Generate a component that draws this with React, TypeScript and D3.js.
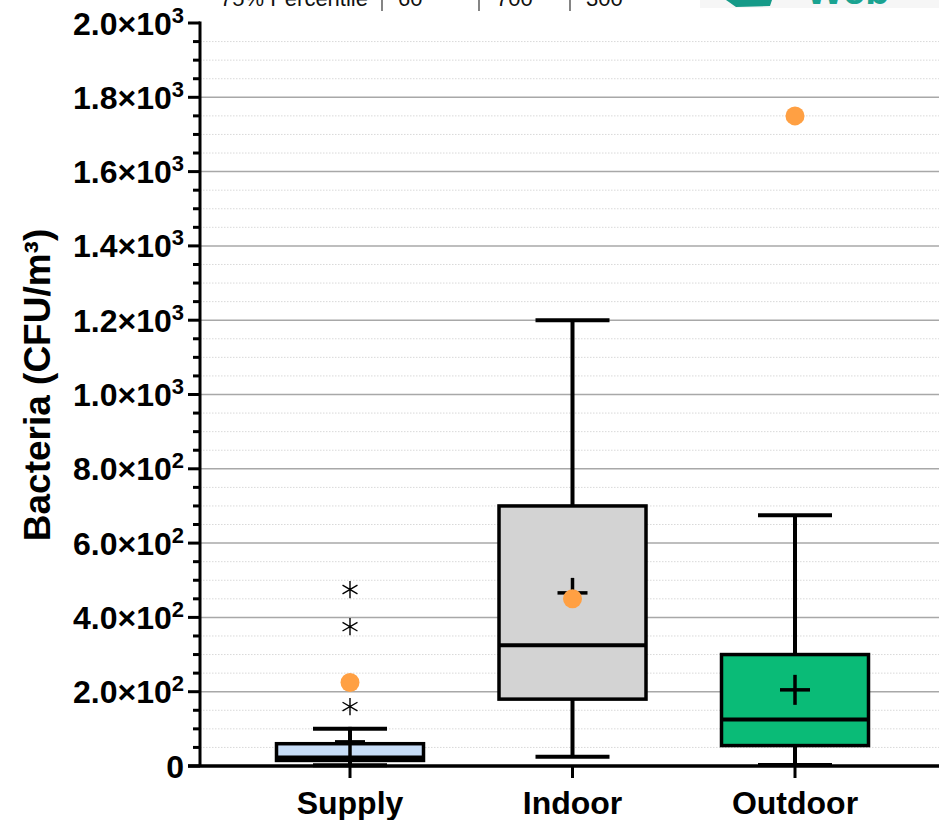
import React from 'react';
import * as d3 from 'd3';

const categories = ['Supply', 'Indoor', 'Outdoor'];
const mins = [2, 25, 3];
const q1s = [15, 180, 55];
const medians = [23, 325, 125];
const q3s = [60, 700, 300];
const maxs = [100, 1200, 675];
const means = [65, 466, 205];
const fills = ['#c7ddf7', '#d3d3d3', '#0abb77'];
const overlayValues = [225, 450, 1750];
const outlierCategory = ['Supply', 'Supply', 'Supply'];
const outlierValues = [160, 375, 475];
const majorTicks = [0, 200, 400, 600, 800, 1000, 1200, 1400, 1600, 1800, 2000];
const minorTicks = d3.range(0, 2001, 50);
const tableCells = ['75% Percentile', '60', '700', '300'];

const W = 939;
const H = 820;
const FONT = '"Liberation Sans", Arial, Helvetica, sans-serif';

function fmt(v: number) {
  if (v === 0) return { base: '0', exp: '' };
  const e = Math.floor(Math.log10(v));
  const m = v / Math.pow(10, e);
  return { base: m.toFixed(1) + '×10', exp: String(e) };
}

export default function App() {
  const y = d3.scaleLinear().domain([0, 2000]).range([766, 23]);
  const x = d3.scalePoint<string>().domain(categories).range([350, 795]);
  const axisX = 200;
  const boxW = 147;
  const capW = 74;
  const meanHalf = 15;
  const asterisk = d3.symbol().type(d3.symbolAsterisk).size(210)();
  const tableX = [220, 398, 496, 586];
  const sepX = [382, 479, 570];

  return (
    <svg width={W} height={H} style={{ position: 'absolute', left: 0, top: 0, background: '#fff' }}
      fontFamily={FONT}>
      {/* cropped table remnant */}
      {tableCells.map((t, i) => (
        <text key={'tc' + i} x={tableX[i]} y={6} fontSize={22} fill="#111">{t}</text>
      ))}
      {sepX.map((sx, i) => (
        <line key={'sp' + i} x1={sx} x2={sx} y1={0} y2={11} stroke="#333" strokeWidth={1.2} />
      ))}
      {/* cropped logo remnant */}
      <rect x={700} y={0} width={239} height={8} fill="#f6f6f6" />
      <polygon points="726,0 772,0 770,6 736,7" fill="#159a88" />
      <text x={806} y={4} fontSize={40} fontWeight="bold" fill="#1aa391">Web</text>

      {/* gridlines */}
      {minorTicks.filter(v => v % 200 !== 0).map(v => (
        <line key={'mg' + v} x1={axisX} x2={W} y1={y(v)} y2={y(v)}
          stroke="#d9d9d9" strokeWidth={1} strokeDasharray="1.5,1.5" />
      ))}
      {majorTicks.filter(v => v > 0 && v < 2000).map(v => (
        <line key={'g' + v} x1={axisX} x2={W} y1={y(v)} y2={y(v)} stroke="#a8a8a8" strokeWidth={1.5} />
      ))}

      {/* boxes */}
      {categories.map((c, i) => {
        const cx = x(c)!;
        return (
          <g key={'b' + c}>
            <line x1={cx} x2={cx} y1={y(q3s[i])} y2={y(maxs[i])} stroke="#000" strokeWidth={4} />
            <line x1={cx} x2={cx} y1={y(q1s[i])} y2={y(mins[i])} stroke="#000" strokeWidth={4} />
            <line x1={cx - capW / 2} x2={cx + capW / 2} y1={y(maxs[i])} y2={y(maxs[i])} stroke="#000" strokeWidth={4} />
            <line x1={cx - capW / 2} x2={cx + capW / 2} y1={y(mins[i])} y2={y(mins[i])} stroke="#000" strokeWidth={4} />
            <rect x={cx - boxW / 2} y={y(q3s[i])} width={boxW} height={y(q1s[i]) - y(q3s[i])}
              fill={fills[i]} stroke="#000" strokeWidth={3.5} />
            <line x1={cx - boxW / 2} x2={cx + boxW / 2} y1={y(medians[i])} y2={y(medians[i])} stroke="#000" strokeWidth={4} />
            <line x1={cx - meanHalf} x2={cx + meanHalf} y1={y(means[i])} y2={y(means[i])} stroke="#000" strokeWidth={3.5} />
            <line x1={cx} x2={cx} y1={y(means[i]) - meanHalf} y2={y(means[i]) + meanHalf} stroke="#000" strokeWidth={3.5} />
          </g>
        );
      })}

      {/* outliers */}
      {outlierValues.map((v, i) => (
        <path key={'o' + i} d={asterisk!} transform={`translate(${x(outlierCategory[i])},${y(v)})`}
          fill="none" stroke="#000" strokeWidth={1.4} />
      ))}

      {/* overlay dots */}
      {categories.map((c, i) => (
        <circle key={'d' + c} cx={x(c)} cy={y(overlayValues[i])} r={9.5} fill="#ffa043" />
      ))}

      {/* y axis */}
      <line x1={axisX} x2={axisX} y1={y(2000) - 1.5} y2={y(0)} stroke="#000" strokeWidth={3} />
      {minorTicks.filter(v => v % 200 !== 0).map(v => (
        <line key={'mt' + v} x1={axisX - 7} x2={axisX} y1={y(v)} y2={y(v)} stroke="#000" strokeWidth={3} />
      ))}
      {majorTicks.map(v => (
        <line key={'t' + v} x1={axisX - 12} x2={axisX} y1={y(v)} y2={y(v)} stroke="#000" strokeWidth={3} />
      ))}
      {majorTicks.map(v => {
        const f = fmt(v);
        return (
          <text key={'tl' + v} x={184} y={y(v) + 11.5} textAnchor="end" fontSize={32} fontWeight="bold" fill="#000">
            <tspan>{f.base}</tspan>
            {f.exp && <tspan dy={-12} fontSize={22}>{f.exp}</tspan>}
          </text>
        );
      })}

      {/* x axis */}
      <line x1={axisX - 12} x2={W} y1={y(0)} y2={y(0)} stroke="#000" strokeWidth={3.5} />
      {categories.map(c => (
        <line key={'xt' + c} x1={x(c)} x2={x(c)} y1={y(0)} y2={y(0) + 12} stroke="#000" strokeWidth={3} />
      ))}
      {categories.map(c => (
        <text key={'xl' + c} x={x(c)} y={814} textAnchor="middle" fontSize={32} fontWeight="bold" fill="#000">{c}</text>
      ))}

      {/* y title */}
      <text transform={`translate(50,${385}) rotate(-90)`} textAnchor="middle" fontSize={37} fontWeight="bold" fill="#000">
        Bacteria (CFU/m³)
      </text>
    </svg>
  );
}
